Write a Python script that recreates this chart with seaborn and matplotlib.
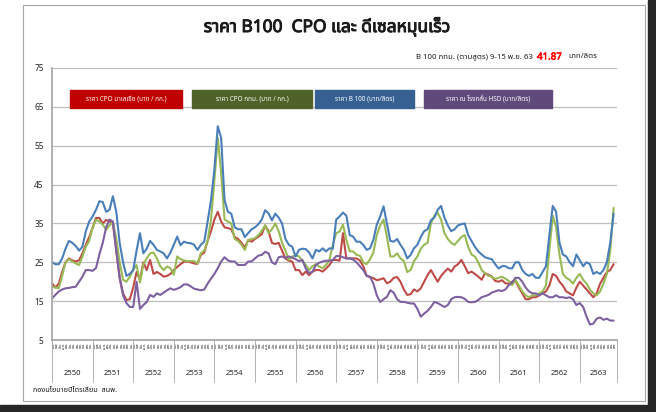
import numpy as np
import pandas as pd
import seaborn as sns
import matplotlib
matplotlib.use('Agg')
import matplotlib.pyplot as plt
import matplotlib.patheffects as pe
from matplotlib import font_manager
from matplotlib.ft2font import FT2Font
from matplotlib.patches import Rectangle
from matplotlib.transforms import blended_transform_factory

# ---- data: monthly prices, ม.ค. 2550 .. พ.ย. 2563 ----
years = [str(y) for y in range(2550, 2564)]
months = ['ม.ค.', 'ก.พ.', 'มี.ค.', 'เม.ย.', 'พ.ค.', 'มิ.ย.',
          'ก.ค.', 'ส.ค.', 'ก.ย.', 'ต.ค.', 'พ.ย.', 'ธ.ค.']

cpo_malaysia = [
    19.6, 18.5, 19.5, 22.5, 25, 26, 25.5, 25.2, 25.5, 27.3, 29.5, 31.5,      # 2550
    33.8, 36.4, 36.4, 35, 35.9, 35.5, 35, 28, 21, 17, 15.3, 15.5,            # 2551
    18.5, 22.5, 20.5, 25, 23, 25.6, 22, 22.5, 22, 21.3, 21.5, 22,            # 2552
    23, 23.8, 24.5, 25.2, 25.2, 25, 24.7, 24.6, 26.9, 27.5, 30.5, 33,        # 2553
    36, 38, 35.5, 34, 33.8, 33.5, 31.5, 31, 30, 28.8, 30.7, 30.3,            # 2554
    31, 31.6, 32.2, 34.5, 33, 30, 29.7, 30, 28, 26, 25.4, 25.2,              # 2555
    23, 23, 21.7, 22.6, 21.7, 22.6, 23, 23, 22.6, 23.4, 24.3, 25.6,          # 2556
    25.6, 25.4, 32.5, 26, 26, 26, 26, 25.5, 24, 21.5, 21.2, 20.9,            # 2557
    20.4, 20.6, 20.9, 19.6, 20, 21, 21.2, 20, 18, 16.6, 16.8, 18,            # 2558
    17.5, 18.3, 20, 21.7, 23, 21.5, 20, 21.5, 22.5, 23.4, 22.6, 23.9,        # 2559
    24.5, 25.6, 24, 22.2, 22.6, 22, 21.3, 20.5, 22.2, 21.8, 21.3, 20.2,      # 2560
    20, 20.4, 19.6, 19.5, 20, 20.3, 18.5, 17, 15.5, 15.5, 16, 16,            # 2561
    16.5, 17, 17.5, 19, 22, 21.5, 20, 19, 17.5, 17, 16.5, 18.5,              # 2562
    20, 19, 18, 17, 16, 17, 19.5, 21, 22.5, 23, 24.5,                        # 2563
]
cpo_bkk = [
    18.7, 18.5, 18.3, 21.5, 25, 25.8, 25.2, 24.7, 24.3, 26.5, 29, 30.5,
    34, 35.9, 35.5, 34.7, 33.4, 34.5, 35.3, 31, 25, 20.5, 20, 21.3,
    23, 24.3, 19.8, 24.5, 26, 27.3, 27.5, 26, 24, 23, 23.9, 23.5,
    21.8, 26.5, 25.8, 25.5, 25.3, 25.3, 25.3, 24.7, 27.3, 28, 30.5, 36,
    46, 57, 48, 36, 35.5, 35, 31, 30.5, 29.5, 28.2, 30.7, 31,
    31.2, 32, 33.1, 34.5, 32.5, 33.5, 35, 33, 30, 28, 25.6, 26.5,
    26.8, 26.5, 25.5, 24.3, 23, 24, 24.5, 23.9, 23.5, 24.3, 25.6, 29.5,
    32.5, 32.9, 34.7, 30.8, 27.8, 27.8, 26.9, 26.7, 25, 24.5, 25.8, 27.5,
    32, 34.5, 36, 31.5, 26.5, 26.5, 27.3, 26, 25.3, 22.5, 23, 25.3,
    26.5, 28.5, 29.5, 30, 35, 37, 37.7, 36, 32.5, 31, 30, 29.5,
    30.5, 31.5, 32, 29, 27, 26.5, 25, 23, 22.2, 21.5, 21.3, 20.7,
    21, 21.3, 20.8, 20.2, 19.1, 20.5, 19, 17.5, 16.5, 16, 16.5, 16.5,
    17, 17.5, 19, 28, 37, 34, 27, 22, 21, 20.5, 19.5, 21,
    22, 20.5, 19.5, 18, 17, 16.5, 17.5, 19.5, 22, 28, 39,
]
b100 = [
    25, 24.5, 24.5, 26, 28.5, 30.5, 30, 29.2, 28, 29, 33, 35.5,
    36.8, 38.5, 40.7, 40.5, 38, 38.5, 42, 38, 30, 25, 21.5, 22,
    23, 28, 32.5, 27.3, 28.5, 30.5, 29.5, 28.2, 27.8, 27.3, 26, 27.5,
    29.5, 31.6, 29.4, 30.3, 30, 29.9, 29.5, 28.2, 29.5, 30.3, 35.5, 41,
    49, 60, 57, 41, 38, 37.5, 34, 33.5, 33.5, 31.5, 32.5, 33.5,
    34, 34.8, 36, 38.4, 37.6, 35.8, 37.5, 36.5, 35, 31, 29.5, 29,
    26.5, 28.2, 28.5, 28.4, 27.5, 26, 28.2, 27.8, 28.6, 27.8, 28.6, 28.5,
    36, 36.8, 37.8, 37, 32, 31.6, 30.3, 30.3, 29.5, 28.2, 28.6, 30.8,
    34.7, 36.8, 39.4, 35, 30.5, 30.3, 31, 29.5, 28.2, 26, 26.9, 28.6,
    29.5, 31.5, 33, 33.5, 35.8, 36.5, 38.5, 39.5, 36.5, 34.5, 33, 33.5,
    34.5, 34.8, 35, 32, 30.5, 29, 27.8, 27, 26.3, 26, 25.8, 24.5,
    23.4, 24, 24, 23.5, 23.4, 25, 25, 23, 22, 21.5, 22, 21,
    21, 22.5, 24, 32, 39.5, 38, 30, 27, 26.5, 25, 24, 27,
    25.5, 24, 25, 24.5, 22, 22.5, 22, 23, 25, 30, 37.5,
]
hsd = [
    15.7, 16.6, 17.5, 18, 18.3, 18.4, 18.6, 18.7, 20, 21.3, 23, 23,
    22.8, 23.5, 27, 30, 34, 36, 35.5, 28, 21, 16.5, 14.5, 13.5,
    13.5, 20, 13, 14, 14.8, 16.6, 16.1, 17, 16.6, 17.2, 17.8, 18.3,
    17.9, 18.2, 18.6, 19.3, 19.3, 18.8, 18.2, 18, 17.8, 18, 19.5, 20.8,
    22, 23.5, 25.2, 26.3, 25.5, 25.2, 25.2, 24.3, 24.3, 24.3, 25.2, 25.2,
    26, 26.7, 26.9, 27.7, 27.3, 25, 24.5, 26.3, 26.5, 26.1, 26.5, 26.2,
    25.8, 25.3, 25.6, 23.4, 22.2, 22.6, 24.3, 24.9, 25.2, 25.4, 25.4, 25.6,
    26.6, 26.6, 26.3, 26, 26, 25.7, 25, 24, 23, 21.5, 21.3, 19.5,
    16.5, 14.8, 15.5, 16.1, 17.8, 17.2, 15.5, 14.8, 14.8, 14.6, 14.4, 14.4,
    13, 11, 11.8, 12.5, 13.5, 14.8, 14.5, 14, 13.5, 14, 15.5, 16,
    16.1, 16, 15.6, 14.8, 14.7, 14.8, 15.3, 16, 16.3, 16.6, 17.2, 17.5,
    17.8, 17.6, 18, 19.1, 19.8, 21, 21, 20, 18.5, 17.5, 17, 17,
    16.5, 17, 16.5, 16, 16, 16.5, 16, 16, 15.8, 16, 15.5, 14,
    14.5, 13.5, 11, 9, 9.2, 10.5, 10.8, 10.2, 10.5, 10, 10,
]

series_names = ['ราคา CPO มาเลเซีย (บาท / กก.)', 'ราคา CPO กทม. (บาท / กก.)',
                'ราคา B 100 (บาท/ลิตร)', 'ราคา ณ โรงกลั่น HSD (บาท/ลิตร)']
line_colors = ['#BE4B48', '#98B954', '#4A7EBB', '#7D60A0']
box_colors = ['#C00000', '#4F6228', '#376092', '#604A7B']


def thai_font():
    found = []
    for f in font_manager.fontManager.ttflist:
        try:
            if 0x0E01 in FT2Font(f.fname).get_charmap():
                found.append(f.name)
        except Exception:
            pass
    for pref in ['Tahoma', 'Noto Sans Thai', 'Loma', 'Garuda', 'Sarabun', 'Norasi']:
        if pref in found:
            return pref
    return found[0] if found else 'DejaVu Sans'


sns.set_theme(style='white')
tfont = thai_font()
plt.rcParams['font.family'] = [tfont, 'DejaVu Sans']

n = len(b100)
df = pd.DataFrame({
    'm': np.tile(np.arange(n), 4),
    'v': cpo_malaysia + cpo_bkk + b100 + hsd,
    's': np.repeat(series_names, n),
})

fig = plt.figure(figsize=(6.56, 4.12), dpi=100, facecolor='white')
W, H = 656, 412

# window frame
fig.patches.append(Rectangle((23 / W, 1 - 401 / H), 622 / W, 396 / H, transform=fig.transFigure,
                             fill=False, edgecolor='#A6A6A6', lw=0.8))
fig.patches.append(Rectangle((0, 0), 1, 7 / H, transform=fig.transFigure, color='#262626'))
fig.patches.append(Rectangle((648 / W, 0), 8 / W, 1, transform=fig.transFigure, color='#262626'))

ax = fig.add_axes([52 / W, 1 - 340 / H, 565 / W, 272 / H])
sns.lineplot(data=df, x='m', y='v', hue='s', palette=line_colors, lw=1.5,
             legend=False, ax=ax)
ax.set_xlim(0, n)
ax.set_ylim(5, 75)
ax.set_yticks(range(5, 76, 10))
ax.tick_params(axis='y', labelsize=6, length=0, pad=6)
ax.yaxis.grid(True, color='#BFBFBF', lw=0.9)
ax.set_xlabel('')
ax.set_ylabel('')
for sp in ['top', 'right']:
    ax.spines[sp].set_visible(False)
ax.spines['left'].set_color('#A6A6A6')
ax.spines['bottom'].set_color('#A6A6A6')

# month labels and ticks
ax.set_xticks(np.arange(n + 1), minor=True)
ax.set_xticks(np.arange(n) + 0.5)
ax.set_xticklabels([months[i % 12] for i in range(n)], rotation=90, fontsize=2.5,
                   color='#1a1a1a', fontweight='bold')
ax.tick_params(axis='x', which='major', length=0, pad=1.5)
ax.tick_params(axis='x', which='minor', length=11, color='#A6A6A6', width=0.5)

trans = blended_transform_factory(ax.transData, ax.transAxes)
for k, yr in enumerate(years):
    start = 12 * k
    end = min(12 * (k + 1), n)
    ax.plot([start, start], [0, -0.155], color='#A6A6A6', lw=0.6, transform=trans, clip_on=False)
    ax.text((start + end) / 2, -0.122, yr, transform=trans, ha='center', va='center',
            fontsize=5.5, color='#262626')
ax.plot([n, n], [0, -0.155], color='#A6A6A6', lw=0.6, transform=trans, clip_on=False)

# legend boxes
boxes = [(70, 182), (192, 312), (315, 414), (424, 552)]
for (x0, x1), name, c in zip(boxes, series_names, box_colors):
    fig.patches.append(Rectangle((x0 / W, 1 - 108 / H), (x1 - x0) / W, 18 / H,
                                 transform=fig.transFigure, color=c))
    fig.text((x0 + x1) / 2 / W, 1 - 99 / H, name, ha='center', va='center',
             fontsize=4.6, color='white', fontweight='bold')

# titles
bold_fx = [pe.withStroke(linewidth=0.7, foreground='#1a1a1a')]
fig.text(327 / W, 1 - 27 / H, 'ราคา B100  CPO และ ดีเซลหมุนเร็ว', ha='center', va='center',
         fontsize=12.5, fontweight='bold', color='#1a1a1a', path_effects=bold_fx)
fig.text(533 / W, 1 - 57 / H, 'B 100 กทม. (ตามสูตร) 9-15 พ.ย. 63', ha='right', va='center',
         fontsize=5.6, color='#1a1a1a')
fig.text(537 / W, 1 - 57 / H, '41.87', ha='left', va='center', fontsize=7, fontweight='bold',
         color='#FF0000', path_effects=[pe.withStroke(linewidth=0.4, foreground='#FF0000')])
fig.text(568 / W, 1 - 57 / H, 'บาท/ลิตร', ha='left', va='center',
         fontsize=5.6, color='#1a1a1a')
fig.text(33 / W, 1 - 390 / H, 'กองนโยบายปิโตรเลียม  สนพ.', ha='left', va='center',
         fontsize=5.2, color='#1a1a1a')

fig.savefig('out.png', dpi=100, facecolor='white')
